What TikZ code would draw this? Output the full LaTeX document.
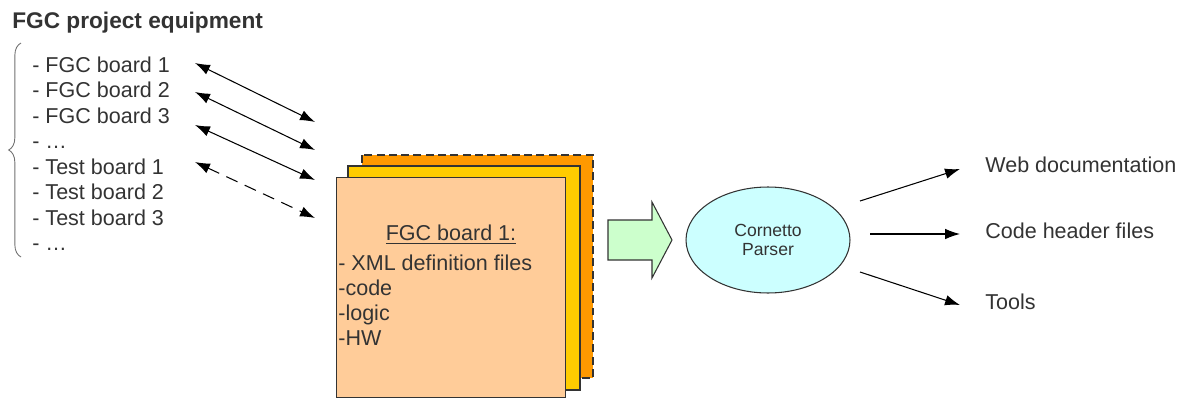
\documentclass[tikz,border=0pt]{standalone}
\usepackage{fontspec}
\setmainfont{Liberation Sans}
\usetikzlibrary{arrows.meta,decorations.pathreplacing,shapes.geometric}
\definecolor{ink}{HTML}{333333}
\definecolor{sheetback}{HTML}{FF9900}
\definecolor{sheetmid}{HTML}{FFCC00}
\definecolor{sheetfront}{HTML}{FFCC99}
\definecolor{flowgreen}{HTML}{CCFFCC}
\definecolor{parsercyan}{HTML}{CCFFFF}
\tikzset{
  >={Latex[length=8.5pt,width=6pt]},
}
\tikzstyle{sheet}=[draw=ink,line width=0.6pt]
\tikzstyle{link}=[line width=0.6pt,<->]
\tikzstyle{result}=[line width=0.6pt,->]
\tikzstyle{every node}=[font=\fontsize{12.25}{14.2}\selectfont,text=ink]
\tikzstyle{item}=[anchor=base west,inner sep=0pt]

\begin{document}
\begin{tikzpicture}[x=0.02cm,y=-0.02cm]
    \useasboundingbox (0,0) rectangle (1190,399);

    % equipment list
    \node[anchor=west,inner sep=0pt,font=\fontsize{12.9}{15}\selectfont\bfseries] (title) at (12,23) {FGC project equipment};
    \foreach \name/\txt [count=\i] in {fgc1/FGC board 1,fgc2/FGC board 2,fgc3/FGC board 3,more1/…,
        tb1/Test board 1,tb2/Test board 2,tb3/Test board 3,more2/…}
      \node[item] (\name) at (32,{72+25.5*(\i-1)}) {- \txt};
    \coordinate (brace bot) at (21,257);
    \coordinate (brace top) at (21,43);
    \draw[decorate,decoration={brace,amplitude=7pt},ink!70,line width=0.5pt] (brace bot) -- (brace top);

    % links to the board definitions
    \foreach \i/\ya/\yb in {1/63/122,2/92/150,3/125/180} {
      \coordinate (from\i) at (195,\ya);
      \coordinate (to\i) at (315,\yb);
      \draw[link] (from\i) -- (to\i);
    }
    \coordinate (from4) at (195,162);
    \coordinate (to4) at (315,218);
    \draw[link,dash pattern=on 7pt off 4.5pt] (from4) -- (to4);

    % stacked board sheets
    \filldraw[sheet,fill=sheetback,line width=0.8pt,dash pattern=on 4.5pt off 2.5pt] (362,155) rectangle (593,378);
    \filldraw[sheet,fill=sheetmid] (348,166) rectangle (580,390);
    \node[sheet,fill=sheetfront,anchor=north west,inner sep=0pt,minimum width=4.58cm,minimum height=4.4cm] (board) at (336,177) {};
    \node (boardtitle) at (451,235) {\underline{FGC board 1:}};
    \foreach \name/\txt [count=\i] in {xml/- XML definition files,code/-code,logic/-logic,hw/-HW}
      \node[item] (\name) at (338,{270+25*(\i-1)}) {\txt};

    % into the parser
    \filldraw[sheet,fill=flowgreen] (608,220) -- (652,220) -- (652,202) -- (672,240)
      -- (652,278) -- (652,260) -- (608,260) -- cycle;
    \node[ellipse,sheet,fill=parsercyan,inner sep=0pt,minimum width=3.28cm,minimum height=2.12cm,
      align=center,font=\fontsize{10}{11.3}\selectfont] (parser) at (768,240) {Cornetto\\Parser};

    % outputs
    \node[anchor=west,inner sep=0pt] (web) at (985,165) {Web documentation};
    \node[anchor=west,inner sep=0pt] (headers) at (985,231) {Code header files};
    \node[anchor=west,inner sep=0pt] (tools) at (985,302) {Tools};
    \coordinate (p1) at (860,201);
    \coordinate (p2) at (870,234);
    \coordinate (p3) at (860,272);
    \coordinate (w1) at (960,169);
    \coordinate (w2) at (960,234);
    \coordinate (w3) at (960,305);
    \draw[result] (p1) -- (w1);
    \draw[result] (p2) -- (w2);
    \draw[result] (p3) -- (w3);
\end{tikzpicture}
\end{document}
